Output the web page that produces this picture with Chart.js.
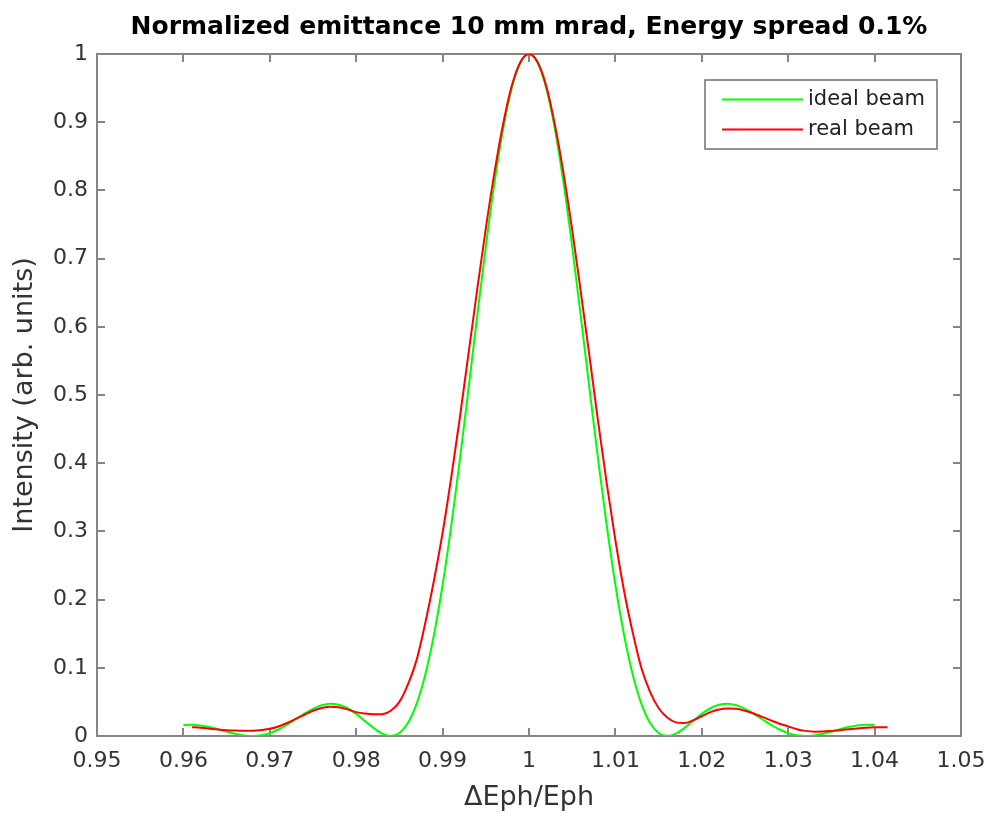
<!DOCTYPE html>
<html>
<head>
<meta charset="utf-8">
<script src="https://cdn.jsdelivr.net/npm/chart.js@4.4.1/dist/chart.umd.min.js"></script>
<style>
  html, body { margin: 0; padding: 0; background: #fff; }
</style>
</head>
<body>
<canvas id="my-chart" width="990" height="813"></canvas>
<script>
// x positions (dEph/Eph) and intensities
const idealX = [
  0.960, 0.961, 0.962, 0.963, 0.964, 0.965, 0.966, 0.967, 0.968, 0.969,
  0.970, 0.971, 0.972, 0.973, 0.974, 0.975, 0.976, 0.977, 0.978, 0.979,
  0.980, 0.981, 0.982, 0.983, 0.984, 0.985, 0.986, 0.987, 0.988, 0.989,
  0.990, 0.991, 0.992, 0.993, 0.994, 0.995, 0.996, 0.997, 0.998, 0.999,
  1.000, 1.001, 1.002, 1.003, 1.004, 1.005, 1.006, 1.007, 1.008, 1.009,
  1.010, 1.011, 1.012, 1.013, 1.014, 1.015, 1.016, 1.017, 1.018, 1.019,
  1.020, 1.021, 1.022, 1.023, 1.024, 1.025, 1.026, 1.027, 1.028, 1.029,
  1.030, 1.031, 1.032, 1.033, 1.034, 1.035, 1.036, 1.037, 1.038, 1.039,
  1.040
];
const idealY = [
  0.0162, 0.0164, 0.0153, 0.0131, 0.0100, 0.0065, 0.0033, 0.0009, 0.0000, 0.0010,
  0.0042, 0.0095, 0.0165, 0.0246, 0.0328, 0.0399, 0.0450, 0.0472, 0.0457, 0.0407,
  0.0324, 0.0222, 0.0117, 0.0034, 0.0000, 0.0044, 0.0194, 0.0474, 0.0901, 0.1482,
  0.2214, 0.3080, 0.4053, 0.5092, 0.6150, 0.7173, 0.8106, 0.8896, 0.9497, 0.9872,
  1.0000,
  0.9872, 0.9497, 0.8896, 0.8106, 0.7173, 0.6150, 0.5092, 0.4053, 0.3080, 0.2214,
  0.1482, 0.0901, 0.0474, 0.0194, 0.0044, 0.0000, 0.0034, 0.0117, 0.0222, 0.0324,
  0.0407, 0.0457, 0.0472, 0.0450, 0.0399, 0.0328, 0.0246, 0.0165, 0.0095, 0.0042,
  0.0010, 0.0000, 0.0009, 0.0033, 0.0065, 0.0100, 0.0131, 0.0153, 0.0164, 0.0162
];

const realX = [
  0.961, 0.962, 0.963, 0.964, 0.965, 0.966, 0.967, 0.968, 0.969,
  0.970, 0.971, 0.972, 0.973, 0.974, 0.975, 0.976, 0.977, 0.978, 0.979,
  0.980, 0.981, 0.982, 0.983, 0.984, 0.985, 0.986, 0.987, 0.988, 0.989,
  0.990, 0.991, 0.992, 0.993, 0.994, 0.995, 0.996, 0.997, 0.998, 0.999,
  1.000, 1.001, 1.002, 1.003, 1.004, 1.005, 1.006, 1.007, 1.008, 1.009,
  1.010, 1.011, 1.012, 1.013, 1.014, 1.015, 1.016, 1.017, 1.018, 1.019,
  1.020, 1.021, 1.022, 1.023, 1.024, 1.025, 1.026, 1.027, 1.028, 1.029,
  1.030, 1.031, 1.032, 1.033, 1.034, 1.035, 1.036, 1.037, 1.038, 1.039,
  1.040, 1.041, 1.0415
];
const realY = [
  0.0130, 0.0120, 0.0108, 0.0096, 0.0086, 0.0079, 0.0076, 0.0078, 0.0088,
  0.0105, 0.0140, 0.0190, 0.0250, 0.0310, 0.0370, 0.0410, 0.0430, 0.0420, 0.0390,
  0.0350, 0.0330, 0.0320, 0.0320, 0.0370, 0.0500, 0.0760, 0.1120, 0.1660, 0.2280,
  0.2980, 0.3790, 0.4670, 0.5610, 0.6540, 0.7440, 0.8260, 0.8970, 0.9530, 0.9880,
  1.0000, 0.9880, 0.9530, 0.8960, 0.8250, 0.7420, 0.6510, 0.5570, 0.4610, 0.3700,
  0.2870, 0.2130, 0.1520, 0.1000, 0.0650, 0.0410, 0.0270, 0.0200, 0.0190, 0.0230,
  0.0290, 0.0350, 0.0390, 0.0405, 0.0400, 0.0370, 0.0330, 0.0280, 0.0230, 0.0180,
  0.0140, 0.0100, 0.0075, 0.0063, 0.0065, 0.0075, 0.0086, 0.0098, 0.0110, 0.0120,
  0.0127, 0.0130, 0.0128
];

const xTicks = [0.95, 0.96, 0.97, 0.98, 0.99, 1.00, 1.01, 1.02, 1.03, 1.04, 1.05];
const yTicks = [0, 0.1, 0.2, 0.3, 0.4, 0.5, 0.6, 0.7, 0.8, 0.9, 1];

const FONT = 'DejaVu Sans';
const AXIS_GREY = '#858585';
const TEXT_GREY = '#333333';

// MATLAB-like box with inward ticks
const boxPlugin = {
  id: 'boxPlugin',
  beforeDatasetsDraw(chart) {
    const {ctx, chartArea: a, scales: {x, y}} = chart;
    ctx.save();
    ctx.strokeStyle = AXIS_GREY;
    ctx.lineWidth = 2;
    ctx.beginPath();
    xTicks.forEach(v => {
      const px = Math.round(x.getPixelForValue(v));
      ctx.moveTo(px, a.bottom); ctx.lineTo(px, a.bottom - 8);
      ctx.moveTo(px, a.top); ctx.lineTo(px, a.top + 8);
    });
    yTicks.forEach(v => {
      const py = Math.round(y.getPixelForValue(v));
      ctx.moveTo(a.left, py); ctx.lineTo(a.left + 8, py);
      ctx.moveTo(a.right, py); ctx.lineTo(a.right - 8, py);
    });
    ctx.stroke();
    ctx.strokeRect(a.left, a.top, a.right - a.left, a.bottom - a.top);
    ctx.restore();
  }
};

// legend box in the upper right corner
const legendPlugin = {
  id: 'legendPlugin',
  afterDraw(chart) {
    const {ctx} = chart;
    const bx = 705, by = 80, bw = 232, bh = 69;
    ctx.save();
    ctx.fillStyle = '#fff';
    ctx.fillRect(bx, by, bw, bh);
    ctx.strokeStyle = '#6f6f6f';
    ctx.lineWidth = 1.5;
    ctx.strokeRect(bx, by, bw, bh);
    ctx.font = '21px "' + FONT + '"';
    ctx.textBaseline = 'middle';
    chart.data.datasets.forEach((ds, i) => {
      const ly = by + 19.5 + i * 30;
      ctx.strokeStyle = ds.borderColor;
      ctx.lineWidth = 2;
      ctx.beginPath();
      ctx.moveTo(722, ly); ctx.lineTo(803, ly);
      ctx.stroke();
      ctx.fillStyle = '#222';
      ctx.fillText(ds.label, 808, ly);
    });
    ctx.restore();
  }
};

const ctx = document.getElementById('my-chart');
const myChart = new Chart(ctx, {
  type: 'line',
  data: {
    datasets: [
      {
        label: 'ideal beam',
        data: idealX.map((x, i) => ({x: x, y: idealY[i]})),
        borderColor: '#00ff00',
        borderWidth: 2,
        pointRadius: 0,
        cubicInterpolationMode: 'monotone',
        fill: false,
        order: 1
      },
      {
        label: 'real beam',
        data: realX.map((x, i) => ({x: x, y: realY[i]})),
        borderColor: '#ff0000',
        borderWidth: 2,
        pointRadius: 0,
        cubicInterpolationMode: 'monotone',
        fill: false,
        order: 0
      }
    ]
  },
  options: {
    responsive: false,
    animation: false,
    layout: { padding: { left: 0, right: 29, top: 0, bottom: 0 } },
    plugins: {
      legend: { display: false },
      tooltip: { enabled: false },
      title: {
        display: true,
        fullSize: false,
        text: 'Normalized emittance 10 mm mrad, Energy spread 0.1%',
        color: '#000',
        font: { family: FONT, size: 25, weight: 'bold', lineHeight: 1.2 },
        padding: { top: 12, bottom: 12 }
      }
    },
    scales: {
      x: {
        type: 'linear',
        min: 0.95,
        max: 1.05,
        afterBuildTicks: s => { s.ticks = xTicks.map(v => ({value: v})); },
        afterFit: s => { s.height = 77; s.paddingLeft = 0; s.paddingRight = 0; },
        grid: { display: false, drawTicks: false, tickLength: 0 },
        border: { display: false },
        ticks: {
          color: TEXT_GREY,
          font: { family: FONT, size: 22 },
          padding: 12,
          maxRotation: 0,
          callback: v => String(+v.toFixed(2))
        },
        title: {
          display: true,
          text: '\u0394Eph/Eph',
          color: TEXT_GREY,
          font: { family: FONT, size: 27, lineHeight: 1 },
          padding: { top: 0, bottom: 1.5 }
        }
      },
      y: {
        type: 'linear',
        min: 0,
        max: 1,
        afterBuildTicks: s => { s.ticks = yTicks.map(v => ({value: v})); },
        afterFit: s => { s.width = 97; s.paddingTop = 0; s.paddingBottom = 0; },
        grid: { display: false, drawTicks: false, tickLength: 0 },
        border: { display: false },
        ticks: {
          color: TEXT_GREY,
          font: { family: FONT, size: 22 },
          padding: 9,
          callback: v => String(+v.toFixed(1))
        },
        title: {
          display: true,
          text: 'Intensity (arb. units)',
          color: TEXT_GREY,
          font: { family: FONT, size: 27, lineHeight: 1.2 },
          padding: { top: 9, bottom: 0 }
        }
      }
    }
  },
  plugins: [boxPlugin, legendPlugin]
});
</script>
</body>
</html>
